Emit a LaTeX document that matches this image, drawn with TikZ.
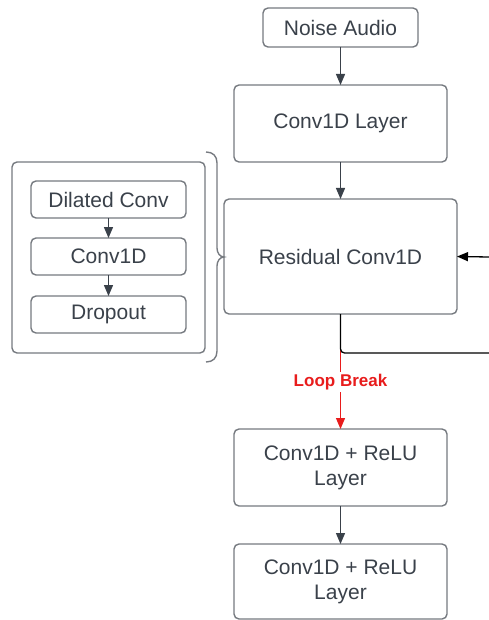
\documentclass[tikz,border=0pt]{standalone}
\usepackage{fontspec}
\setmainfont{Liberation Sans}
\usetikzlibrary{arrows.meta}
\definecolor{txt}{RGB}{58,65,74}
\definecolor{bord}{RGB}{118,122,128}
\definecolor{arr}{RGB}{58,65,74}
\definecolor{loopred}{RGB}{232,28,28}
\begin{document}
\begin{tikzpicture}[x=1pt,y=-1pt,
  box/.style={draw=bord, line width=1.4pt, rounded corners=5pt, fill=white,
    text=txt, font=\fontsize{21}{25}\selectfont, align=center,
    inner sep=0pt, outer sep=0pt},
  flow/.style={draw=arr, line width=1.3pt, -{Triangle[length=11pt,width=9pt]}},
]
\useasboundingbox (0,0) rectangle (489,620);
% outer group box
\node[box, minimum width=193pt, minimum height=191pt] (outer) at (108.5,257.5) {};
\node[box, minimum width=155pt, minimum height=37pt] (dil) at (108.5,199.5) {Dilated Conv};
\node[box, minimum width=155pt, minimum height=37pt] (cv) at (108.5,256.5) {Conv1D};
\node[box, minimum width=155pt, minimum height=37pt] (drop) at (108.5,314.5) {Dropout};
% main column
\node[box, minimum width=155pt, minimum height=39pt] (noise) at (340.5,27.5) {Noise Audio};
\node[box, minimum width=213pt, minimum height=77pt] (c1) at (340.5,123.5) {Conv1D Layer};
\node[box, minimum width=233pt, minimum height=115pt] (res) at (340.5,256.5) {Residual Conv1D};
\node[box, minimum width=213pt, minimum height=77pt] (r1) at (340.5,467.5) {Conv1D + ReLU\\Layer};
\node[box, minimum width=213pt, minimum height=75pt] (r2) at (340.5,581.5) {Conv1D + ReLU\\Layer};
% arrows
\draw[flow] (noise) -- (c1);
\draw[flow] (c1) -- (res);
\draw[flow] (r1) -- (r2);
\draw[flow] (dil) -- (cv);
\draw[flow] (cv) -- (drop);
% loop break
\draw[loopred, line width=1.3pt, -{Triangle[length=11pt,width=9pt]}] (res.south) -- node[pos=0.59, fill=white, inner sep=2pt, text=loopred, font=\fontsize{17}{19}\selectfont\bfseries] (lb) {Loop Break} (r1.north);
% loop back line
\coordinate (loopR) at (489,353);
\coordinate (inR) at (489,257);
\draw[black, line width=1.3pt, rounded corners=4pt] (res.south) -- (res.south |- loopR) -- (loopR);
\draw[black, line width=1.3pt, -{Triangle[length=11pt,width=9pt]}] (inR) -- (res.east);
% brace
\draw[bord, line width=1.4pt] (206,152) .. controls (213,152) and (217,156) .. (217,163) -- (217,248) .. controls (217,253) and (220,257) .. (224,257) .. controls (220,257) and (217,261) .. (217,266) -- (217,351) .. controls (217,358) and (213,362) .. (206,362);
\end{tikzpicture}
\end{document}
